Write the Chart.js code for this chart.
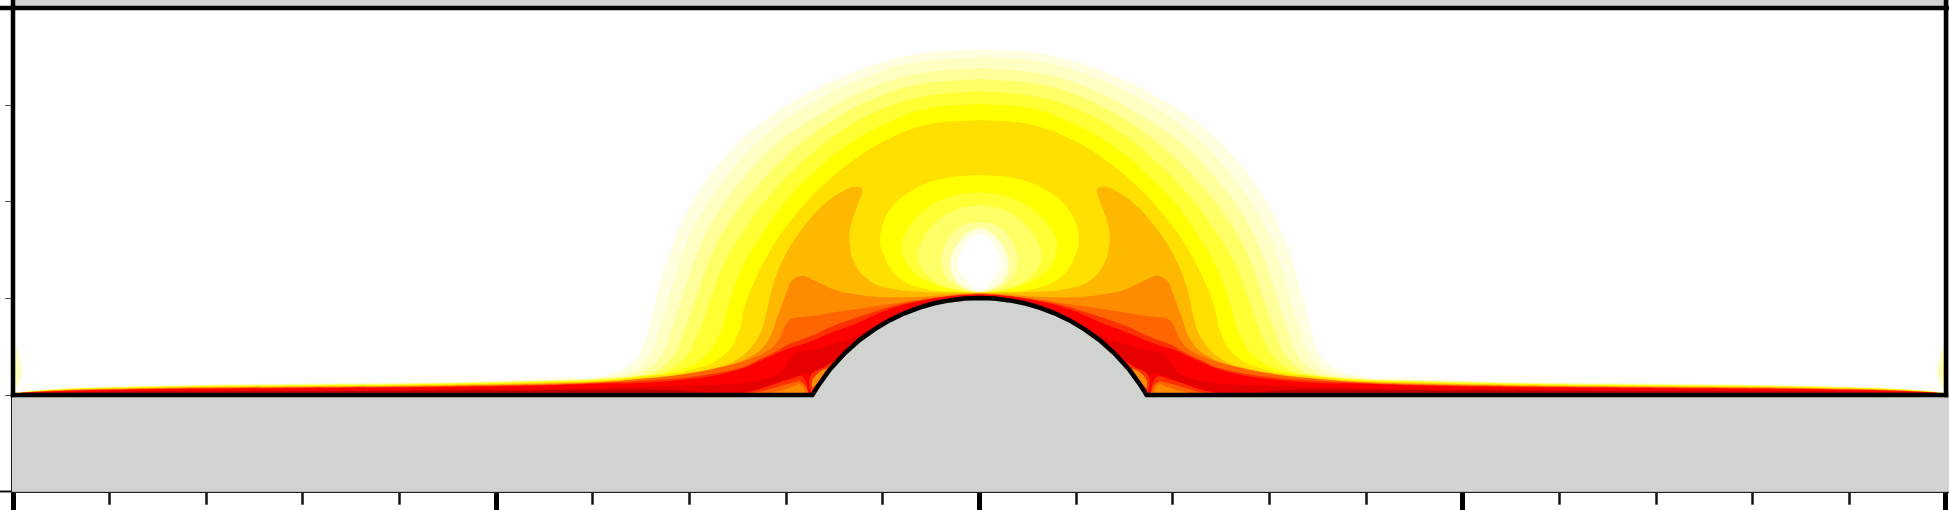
<!DOCTYPE html>
<html>
<head>
<meta charset="utf-8">
<style>html,body{margin:0;padding:0;background:#fff;overflow:hidden}canvas{display:block}</style>
<script src="https://cdn.jsdelivr.net/npm/chart.js@4"></script>
</head>
<body>
<canvas id="c" width="1949" height="510"></canvas>
<script>
// Field is symmetric about x = 0: each half contour runs from the axis outwards, left side.
const xMinorTicks = [-869.4,-772.8,-676.2,-579.6,-386.4,-289.8,-193.2,-96.6,96.6,193.2,289.8,386.4,579.6,676.2,772.8,869.4];
const xMajorTicks = [-966,-483,0,483,966];
const yMinorTicks = [0,96.6,193.2,290];
const yMajorTicks = [-96.6,387];

const hillProfile = [[0,97],[-15,96.4],[-30,94.6],[-45,91.7],[-60,87.4],[-75,81.7],[-90,74.6],[-105,65.7],[-120,54.9],[-135,41.5],[-150,24.9],[-160,11.1],[-167,0]];

const c1 = [[0,346],[-68,340],[-125,323],[-178,298],[-221,270],[-257,235],[-286,195],[-305,155],[-319,112],[-329,75],[-338,45],[-350,30],[-379,18.7],[-420,16.5],[-500,14],[-579,12.5],[-680,11.5],[-779,10.5],[-850,9],[-909,7],[-950,4],[-966,1.5]];
const c2 = [[0,338],[-68,332],[-121,315],[-171,290],[-211,262],[-245,228],[-274,188],[-293,152],[-307,108],[-318,72],[-329,42],[-345,25],[-379,17.5],[-420,15.5],[-500,13.3],[-579,11.9],[-680,11],[-779,10],[-850,8.6],[-909,6.7],[-950,3.8],[-966,1.5]];
const c3 = [[0,327],[-63,321],[-116,304],[-164,278],[-202,252],[-235,218],[-262,182],[-281,145],[-295,105],[-307,68],[-319,38],[-341,22],[-379,16.7],[-420,15],[-500,12.9],[-579,11.5],[-680,10.6],[-779,9.7],[-850,8.3],[-909,6.5],[-950,3.7],[-966,1.5]];
const c4 = [[0,316],[-63,310],[-111,294],[-154,270],[-190,242],[-223,208],[-250,173],[-269,138],[-283,98],[-295,65],[-307,38],[-331,21],[-379,16],[-420,14.4],[-500,12.4],[-579,11.1],[-680,10.2],[-779,9.3],[-850,8],[-909,6.2],[-950,3.5],[-966,1.4]];
const c5 = [[0,304],[-58,298],[-104,283],[-144,260],[-178,232],[-209,200],[-235,165],[-255,132],[-269,95],[-281,62],[-295,37],[-322,21],[-379,15.5],[-420,13.9],[-500,12],[-579,10.7],[-680,9.9],[-779,9],[-850,7.7],[-909,6],[-950,3.4],[-966,1.4]];
const c6 = [[0,291],[-54,286],[-97,270],[-135,248],[-166,222],[-195,192],[-219,158],[-238,125],[-250,92],[-259,62],[-276,37],[-307,23],[-339,19],[-379,15],[-420,13.4],[-500,11.4],[-579,10.3],[-680,9.5],[-779,8.7],[-850,7.4],[-909,5.8],[-950,3.3],[-966,1.4]];
const c7 = [[0,275],[-49,271],[-89,257],[-123,237],[-154,212],[-180,185],[-204,153],[-221,122],[-235,88],[-240,65],[-255,40],[-288,25],[-339,18],[-379,14.2],[-420,12.7],[-500,10.9],[-579,9.8],[-680,9],[-779,8.2],[-850,7],[-909,5.5],[-950,3.1],[-966,1.3]];
const c8 = [[0,102.5],[-54,103],[-92,107],[-111,115],[-125,132],[-130,155],[-128,172],[-121,192],[-117,205],[-121,208],[-130,207],[-154,192],[-178,165],[-195,138],[-207,108],[-214,78],[-221,58],[-240,37],[-269,26],[-322,18],[-379,13.6],[-420,12.2],[-500,10.4],[-579,9.3],[-680,8.6],[-779,7.8],[-850,6.7],[-909,5.2],[-950,3],[-966,1.3]];
const c9 = [[0,102],[-32,100],[-66,98],[-99,98],[-126,101],[-144,105],[-166,115],[-172,118],[-179,119],[-188,114],[-192,105],[-202,78],[-211,55],[-226,40],[-256,28],[-289,22],[-322,17],[-379,13],[-420,11.6],[-500,9.9],[-579,8.8],[-680,8.1],[-779,7.4],[-850,6.3],[-909,5],[-950,2.8],[-966,1.2]];
const c10 = [[0,101.5],[-16,100],[-49,97],[-82,92],[-116,87],[-149,82],[-166,79],[-178,78],[-186,77],[-192,73],[-197,63],[-202,53],[-212,44],[-232,35],[-262,27],[-299,20],[-339,16],[-379,12.5],[-420,11.1],[-500,9.4],[-579,8.4],[-680,7.7],[-779,7],[-850,6],[-909,4.7],[-950,2.7],[-966,1.2]];
const c11 = [[0,101],[-22,100],[-50,96],[-82,90],[-109,82],[-130,75],[-149,68],[-166,60],[-182,54],[-192,50],[-206,42],[-219,36],[-239,27],[-289,18],[-339,14],[-379,12],[-420,10.6],[-500,9],[-579,7.9],[-680,7.3],[-779,6.6],[-850,5.7],[-909,4.4],[-950,2.5],[-966,1.1]];
const c12 = [[0,100.5],[-26,99],[-59,94],[-92,85],[-122,72],[-149,62],[-165,55],[-182,49],[-192,46],[-206,40],[-219,34],[-239,26],[-262,20],[-289,16],[-339,12],[-379,11.5],[-420,10],[-500,8.4],[-579,7.4],[-680,6.8],[-779,6.2],[-850,5.3],[-909,4.1],[-950,2.4],[-966,1]];
const c13 = [[0,100],[-22,98],[-56,92],[-86,80],[-112,65],[-132,55],[-142,52],[-166,45],[-182,42],[-192,32],[-199,22],[-229,13],[-272,10],[-339,8],[-379,7],[-420,6.2],[-500,5.4],[-579,4.8],[-680,4.5],[-779,4.2],[-850,3.7],[-909,3],[-950,2.2],[-966,1]];
const c14 = [[-250,0],[-300,4.5],[-339,5.5],[-379,5],[-420,4.8],[-500,4.4],[-579,4],[-680,3.8],[-779,3.6],[-850,3.2],[-909,2.6],[-950,2],[-966,1],[-966,0]];

const pocketRed = [[-176,22],[-168,18],[-166,0],[-255,0],[-230,4],[-210,10],[-192,16]];
const pocketFF3 = [[-183,18],[-178,19],[-173,12],[-171,2],[-170,0],[-243,0],[-222,5],[-202,12]];
const pocketFF6 = [[-180,14],[-174,9],[-172,0],[-232,0],[-212,5],[-196,10]];
const pocketFF8 = [[-180,11],[-176,8],[-175,0],[-218,0],[-200,4],[-188,8]];
const hillPocketFF3 = [[-147,33],[-155,28],[-167,22],[-170,15],[-170,8],[-167,2],[-158,12]];
const hillPocketFF8 = [[-152,27],[-160,23],[-167,15],[-167,7],[-162,12]];

const bulb1 = [[0,220],[-34,217],[-63,207],[-88,187],[-99,160],[-95,138],[-79,116],[-49,105],[-20,103],[0,102.7]];
const bulb2 = [[0,203],[-30,198],[-53,186],[-71,167],[-78,147],[-68,125],[-44,110],[-11,103],[0,102.7]];
const bulb3 = [[0,190],[-22,186],[-41,175],[-56,157],[-62,138],[-53,120],[-30,107],[0,102.7]];
const bulb4 = [[0,173],[-16,170],[-28,160],[-36,146],[-38,132],[-33,118],[-20,108],[-6,103.5],[0,102.7]];
const bulb5 = [[0,167],[-11,163],[-22,151],[-28,138],[-29,128],[-24,115],[-12,106],[0,102.7]];
const bulbWhite = [[0,161],[-9,157],[-17,146],[-21,135],[-21,126],[-16,118],[-6,107],[0,103.5]];

const sideSliverPale = [[-966,62],[-962,45],[-958,30],[-957,22],[-960,12],[-964,4],[-966,2]];
const sideSliverYellow = [[-966,50],[-963,28],[-964,12],[-966,4]];
const topSliver = [[0,385],[-50,385.5],[-90,387]];

const C = {gray:'#d1d3d1',white:'#fefefe'};
const layers = [
  [c1,'#ffffe0'],[c2,'#ffffc4'],[c3,'#ffff99'],[c4,'#ffff66'],[c5,'#ffff33'],[c6,'#ffff00'],[c7,'#ffe000'],
  [c8,'#ffb800'],[c9,'#ff8c00'],[c10,'#ff6600'],[c11,'#ff3000'],[c12,'#ff0000'],[c13,'#e60000']
];
const sidePatches = [
  [c14,'#b80000'],
  [pocketRed,'#ff0000'],[pocketFF3,'#ff3000'],[pocketFF6,'#ff6600'],[pocketFF8,'#ff8c00'],
  [hillPocketFF3,'#ff3000'],[hillPocketFF8,'#ff8c00'],
  [sideSliverPale,'#ffffc4'],[sideSliverYellow,'#ffff66']
];
const bulbs = [[bulb1,'#ffff00'],[bulb2,'#ffff33'],[bulb3,'#ffff66'],[bulb4,'#ffff99'],[bulb5,'#ffffe0'],[bulbWhite,'#ffffff'],[topSliver,'#ffffc4']];

const pts = a => a.map(p => ({x:p[0],y:p[1]}));
const flip = a => a.map(p => [-p[0],p[1]]);
const mirror = half => pts([...flip(half)].reverse().concat(half));
const datasets = [];
function addFill(data,color,tension){ datasets.push({data,backgroundColor:color,borderWidth:0,pointRadius:0,showLine:true,fill:'shape',tension:tension}); }
function addLine(data,width){ datasets.push({data,borderColor:'#000',borderWidth:width,pointRadius:0,showLine:true,fill:false,tension:0,clip:false,borderCapStyle:'square'}); }

addFill(pts([[-967,-97],[969,-97],[969,395],[-967,395]]),C.gray,0);
addFill(pts([[-966,0],[966,0],[966,387],[-966,387]]),C.white,0);
layers.forEach(l => addFill(mirror(l[0]),l[1],0.4));
sidePatches.forEach(l => { addFill(pts(l[0]),l[1],0.3); addFill(pts(flip(l[0])),l[1],0.3); });
bulbs.forEach(l => addFill(mirror(l[0]),l[1],0.4));
addFill(mirror(hillProfile.concat([[-966,0],[-966,-96.6]])),C.gray,0);
addLine(mirror(hillProfile.concat([[-966,0]])),4.5);
addLine(pts([[-966,0],[-966,395]]),4.5);
addLine(pts([[966,0],[966,395]]),4.5);
addLine(pts([[-979,387],[969,387]]),4.5);
datasets.forEach((d,i) => d.order = datasets.length - i);

const tickAxis = (ids,len,width,color,extra) => Object.assign({
  type:'linear',
  display:true,
  afterBuildTicks:a => { a.ticks = ids.map(v => ({value:v})); },
  ticks:{display:false},
  grid:{drawOnChartArea:false,drawTicks:true,tickLength:len,tickWidth:width,tickColor:color},
},extra);

new Chart(document.getElementById('c'),{
  type:'scatter',
  data:{datasets},
  options:{
    responsive:false,animation:false,
    layout:{padding:0},
    plugins:{legend:{display:false},tooltip:{enabled:false}},
    scales:{
      x:tickAxis(xMinorTicks,13,2.5,'#111',{min:-967,max:969,position:'bottom',border:{color:'#222',width:2},afterFit:a=>{a.height=18.3;}}),
      y:tickAxis(yMinorTicks,7,1,'#555',{min:-96.7,max:395,position:'left',border:{color:'#222',width:2},afterFit:a=>{a.width=12;}}),
      x2:tickAxis(xMajorTicks,19,5,'#000',{axis:'x',min:-967,max:969,position:{y:-96.7},border:{display:false}}),
      y2:tickAxis(yMajorTicks,12,2,'#111',{axis:'y',min:-96.7,max:395,position:{x:-967},border:{display:false}})
    }
  }
});
</script>
</body>
</html>
